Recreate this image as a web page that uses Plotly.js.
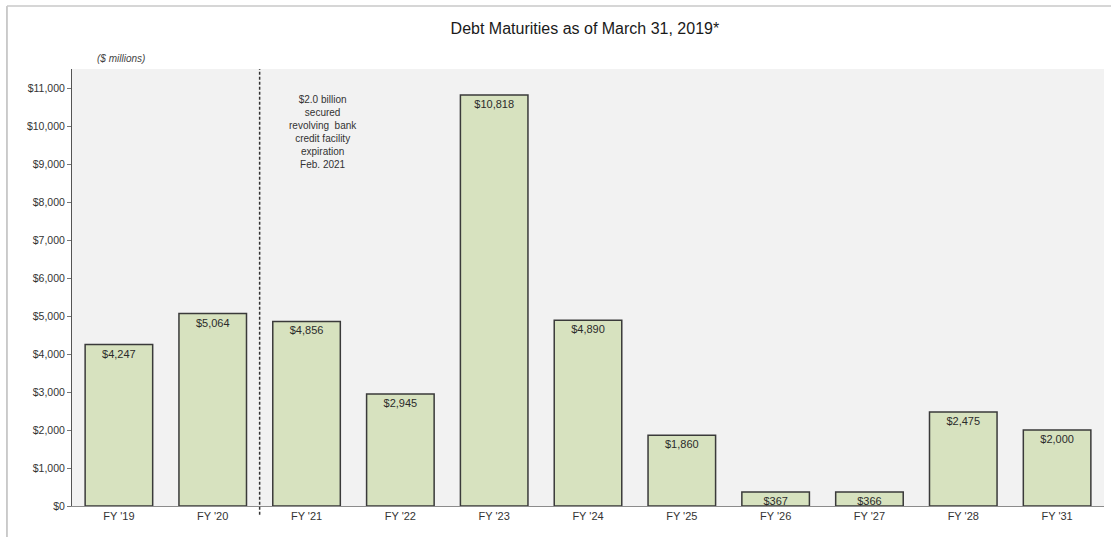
<!DOCTYPE html>
<html>
<head>
<meta charset="utf-8">
<script src="https://cdn.plot.ly/plotly-3.0.1.min.js"></script>
<style>html,body{margin:0;padding:0;background:#fff;}#chart{width:1111px;height:537px;}</style>
</head>
<body>
<div id="chart"></div>
<script>
const categories = ["FY '19", "FY '20", "FY '21", "FY '22", "FY '23", "FY '24", "FY '25", "FY '26", "FY '27", "FY '28", "FY '31"];
const maturities = [4247, 5064, 4856, 2945, 10818, 4890, 1860, 367, 366, 2475, 2000];
const noteText = "$2.0 billion<br>secured<br>revolving  bank<br>credit facility<br>expiration<br>Feb. 2021";

const trace = {
  type: 'bar',
  x: categories,
  y: maturities,
  marker: {color: '#d7e2bf', line: {color: '#3a3a3a', width: 1.5}},
  texttemplate: '$%{y:,}',
  textposition: 'inside',
  insidetextanchor: 'end',
  constraintext: 'none',
  textangle: 0,
  textfont: {family: 'Liberation Sans, Arial, sans-serif', size: 11, color: '#2b2b2b'},
  hoverinfo: 'x+y',
  cliponaxis: false
};

const layout = {
  width: 1111, height: 537,
  margin: {l: 72, r: 7, t: 69, b: 31},
  paper_bgcolor: '#ffffff',
  plot_bgcolor: '#f2f2f2',
  showlegend: false,
  bargap: 0.28,
  title: {
    text: 'Debt Maturities as of March 31, 2019*',
    font: {family: 'Liberation Sans, Arial, sans-serif', size: 16, color: '#1a1a1a'},
    x: 0.497, xref: 'paper', xanchor: 'center',
    y: 0.948, yref: 'container', yanchor: 'middle'
  },
  xaxis: {
    type: 'category',
    showgrid: false,
    showline: true, linecolor: '#8c8c8c', linewidth: 1,
    ticks: '',
    tickfont: {family: 'Liberation Sans, Arial, sans-serif', size: 11, color: '#333333'},
    zeroline: false
  },
  yaxis: {
    range: [0, 11500],
    dtick: 1000, tick0: 0,
    tickprefix: '$', tickformat: ',d',
    showgrid: false,
    showline: true, linecolor: '#555555', linewidth: 1,
    ticks: 'outside', ticklen: 4, tickcolor: '#777777',
    tickfont: {family: 'Liberation Sans, Arial, sans-serif', size: 10.5, color: '#333333'},
    zeroline: false
  },
  shapes: [
    {type: 'line', xref: 'x', yref: 'paper', x0: 1.5, x1: 1.5, y0: -0.02, y1: 1,
     line: {color: '#333333', width: 1.5, dash: '3px,2px'}},
    {type: 'line', xref: 'paper', yref: 'paper', x0: -0.063, x1: -0.063, y0: -0.1, y1: 1.144,
     line: {color: '#9a9a9a', width: 1}},
    {type: 'line', xref: 'paper', yref: 'paper', x0: -0.063, x1: 1.01, y0: 1.144, y1: 1.144,
     line: {color: '#c8c8c8', width: 1.5}}
  ],
  annotations: [
    {xref: 'paper', yref: 'paper', x: 0.047, y: 1.025, xanchor: 'center', yanchor: 'middle',
     text: '<i>($ millions)</i>', showarrow: false,
     font: {family: 'Liberation Sans, Arial, sans-serif', size: 10, color: '#444444'}},
    {xref: 'x', yref: 'y', x: 2.18, y: 9850, xanchor: 'center', yanchor: 'middle',
     text: noteText, showarrow: false, align: 'center',
     font: {family: 'Liberation Sans, Arial, sans-serif', size: 10, color: '#333333'}}
  ]
};

Plotly.newPlot('chart', [trace], layout, {displayModeBar: false, staticPlot: true});
</script>
</body>
</html>
